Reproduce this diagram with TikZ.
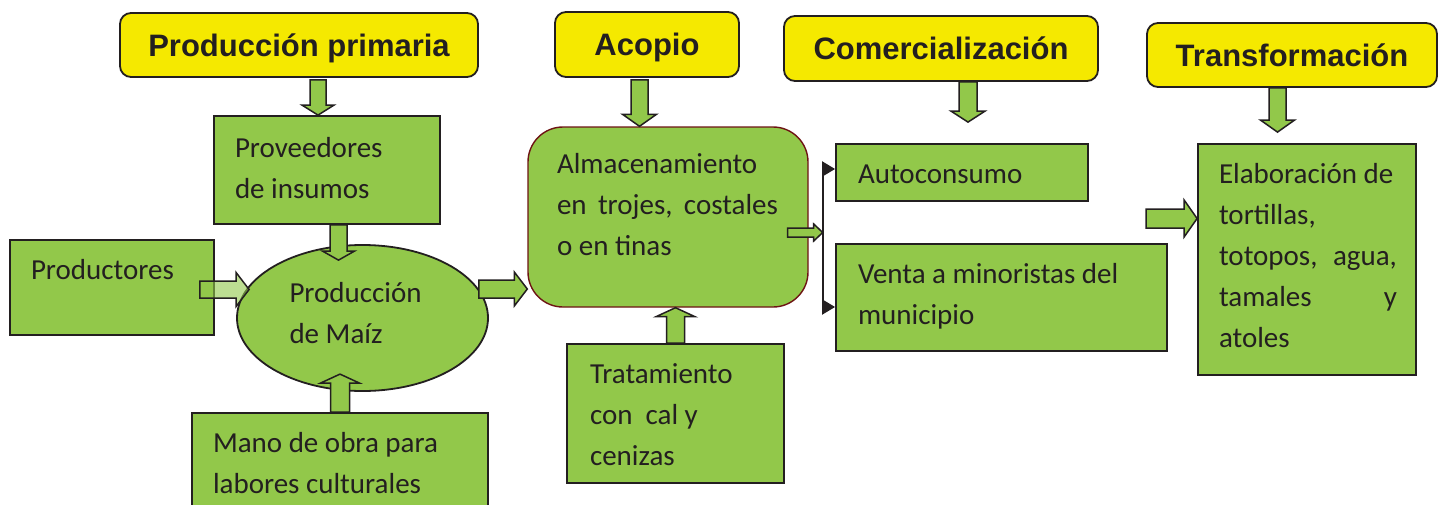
\documentclass[tikz,border=0pt]{standalone}
\usepackage{fontspec}
\setmainfont{Carlito}
\newfontfamily\titlefont{Liberation Sans}
\usetikzlibrary{calc,shapes.geometric,arrows.meta}
\definecolor{boxgreen}{HTML}{92C84A}
\definecolor{titleyellow}{HTML}{F5E900}
\definecolor{ink}{HTML}{231F20}
\definecolor{almborder}{HTML}{6E1414}
% box text: width, height, top gap, left gap, text width, text
\newcommand\bx[6]{\parbox[c][#2][t]{#1}{\vspace*{#3}\hspace*{#4}\parbox[t]{#5}{\strut #6}}}
% block arrow: [opts]{start}{tip}{shaft half width}{head half width}{head length}
\newcommand\barrow[6][]{%
  \coordinate (ba-s) at (#2);
  \coordinate (ba-t) at (#3);
  \coordinate (ba-h) at ($(ba-t)!#6!(ba-s)$);
  \draw[blockarrow,#1] ($(ba-s)!#4!90:(ba-t)$) -- ($(ba-h)!#4!90:(ba-t)$)
    -- ($(ba-h)!#5!90:(ba-t)$) -- (ba-t) -- ($(ba-h)!#5!-90:(ba-t)$)
    -- ($(ba-h)!#4!-90:(ba-t)$) -- ($(ba-s)!#4!-90:(ba-t)$) -- cycle;
}
\tikzset{
  box/.style={draw=ink, line width=1.8pt, fill=boxgreen, inner sep=0pt, text=ink,
    font=\fontsize{29}{41}\selectfont},
  title/.style={draw=ink, line width=1.8pt, fill=titleyellow, rounded corners=11pt,
    inner sep=0pt, text=ink, font=\titlefont\bfseries\fontsize{31}{36}\selectfont,
    text height=22pt, text depth=0pt},
  blockarrow/.style={draw=ink, line width=1.5pt, fill=boxgreen, line join=miter},
  bracket/.style={draw=ink, line width=2pt, -{Triangle[length=13pt,width=15pt]}}
}
\begin{document}
\begin{tikzpicture}[x=1pt,y=-1pt]
\fill[white] (0,0) rectangle (1438,504);
\clip (0,0) rectangle (1438,504);
% titles
\node[title, minimum width=358pt, minimum height=64pt] (t1) at (299,45) {Producción primaria};
\node[title, minimum width=184pt, minimum height=65pt] (t2) at (647,44.5) {Acopio};
\node[title, minimum width=314pt, minimum height=65pt] (t3) at (941,48.5) {Comercialización};
\node[title, minimum width=290pt, minimum height=64pt] (t4) at (1292,55) {Transformación};
% boxes
\node[box] (prov) at (327,170) {\bx{226pt}{108pt}{12.3pt}{21pt}{200pt}{Proveedores\\de insumos}};
\node[box] (prod) at (112,287.5) {\bx{204pt}{95pt}{10.3pt}{21pt}{180pt}{Productores}};
\node[box, ellipse, minimum width=251pt, minimum height=146pt] (maiz) at (362.5,318)
  {\bx{146pt}{100pt}{5.3pt}{0pt}{146pt}{Producción\\de Maíz}};
\node[box] (mano) at (340,468) {\bx{296pt}{110pt}{10.3pt}{21pt}{270pt}{Mano de obra para\\labores culturales}};
\node[box, draw=almborder, rounded corners=35pt, line width=1.4pt] (alm) at (668,217)
  {\bx{280pt}{180pt}{17.3pt}{29pt}{221pt}{Almacenamiento\\en \hfill trojes, \hfill costales\\o en tinas}};
\node[box] (trat) at (675.5,413.5) {\bx{217pt}{139pt}{10.3pt}{23pt}{190pt}{Tratamiento\\con \ cal y\\cenizas}};
\node[box] (auto) at (962,172.5) {\bx{252pt}{57pt}{10.3pt}{22pt}{220pt}{Autoconsumo}};
\node[box] (venta) at (1001.5,297.5) {\bx{331pt}{107pt}{10.3pt}{22pt}{300pt}{Venta a minoristas del\\municipio}};
\node[box] (elab) at (1307,259.5) {\bx{218pt}{231pt}{10.3pt}{21pt}{178pt}{Elaboración de\\tortillas,\\totopos, \hfill agua,\\tamales \hfill y\\atoles}};
% block arrows
\barrow{$(t1.south)+(19,2)$}{$(prov.north)+(-9,0)$}{8pt}{16pt}{10pt}
\barrow{$(t2.south)+(-7.5,2)$}{$(alm.north)+(-28.5,0)$}{8.5pt}{17pt}{12pt}
\barrow{$(t3.south)+(27,0)$}{$(auto.north)+(6,-21)$}{9pt}{17pt}{11pt}
\barrow{$(t4.south)+(-14.5,0)$}{$(elab.north)+(-29.5,-11)$}{8.5pt}{17pt}{12pt}
\barrow{$(prov.south)+(11.5,0)$}{$(maiz.north)+(-24,16)$}{8.5pt}{16pt}{9pt}
\barrow[fill opacity=0.6]{$(prod.east)+(-15,2)$}{$(maiz.west)+(13,-28.5)$}{8.5pt}{17pt}{13pt}
\barrow{$(maiz.east)+(-10,-29)$}{$(alm.west)+(0,72)$}{9pt}{17pt}{13pt}
\barrow{mano.north}{$(mano.north)+(0,-38)$}{9.5pt}{19.5pt}{9pt}
\barrow{trat.north}{alm.south -| trat.north}{9pt}{19.5pt}{9pt}
\coordinate (br) at ($(alm.east)+(14,15.5)$);
\barrow{$(alm.east)+(-21,15.5)$}{br}{4.5pt}{8.5pt}{9pt}
\barrow{$(elab.west)+(-51,-41)$}{$(elab.west)+(0,-41)$}{9.5pt}{18.5pt}{13pt}
% bracket
\draw[bracket] (br) |- ($(auto.west)+(0,-3.5)$);
\draw[bracket] (br) |- ($(venta.west)+(0,9.5)$);
\end{tikzpicture}
\end{document}
